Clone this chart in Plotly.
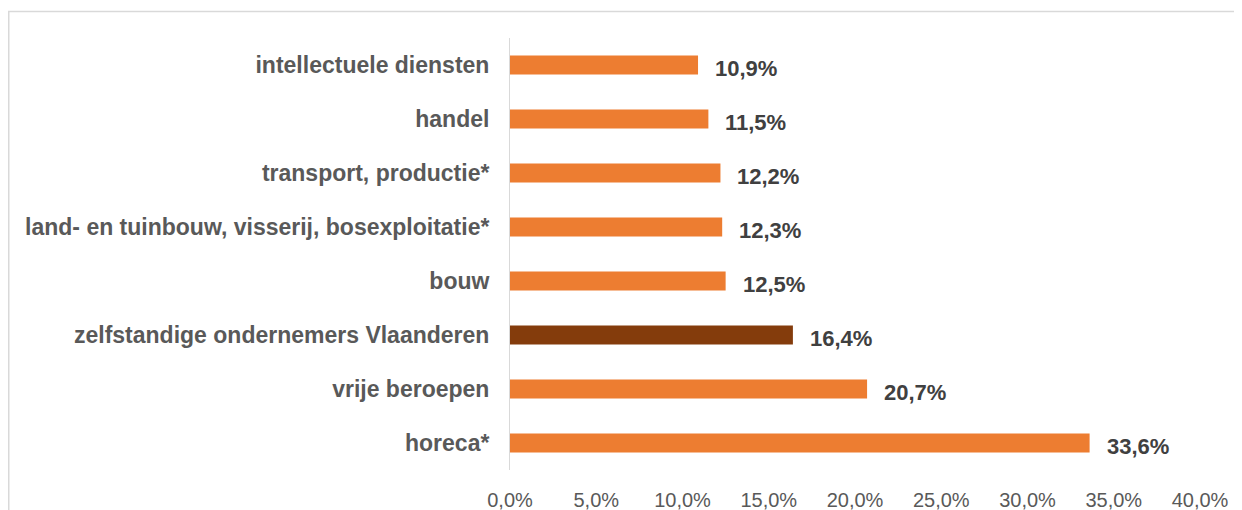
import plotly.graph_objects as go

# categories from top to bottom, as in the chart
categories = [
    'intellectuele diensten',
    'handel',
    'transport, productie*',
    'land- en tuinbouw, visserij, bosexploitatie*',
    'bouw',
    'zelfstandige ondernemers Vlaanderen',
    'vrije beroepen',
    'horeca*',
]
shares = [0.109, 0.115, 0.122, 0.123, 0.125, 0.164, 0.207, 0.336]
share_labels = ['10,9%', '11,5%', '12,2%', '12,3%', '12,5%', '16,4%', '20,7%', '33,6%']
tick_values = [0, 0.05, 0.10, 0.15, 0.20, 0.25, 0.30, 0.35, 0.40]
tick_labels = ['0,0%', '5,0%', '10,0%', '15,0%', '20,0%', '25,0%', '30,0%', '35,0%', '40,0%']
highlight = 'zelfstandige ondernemers Vlaanderen'

# page body adds an 8px margin, so the figure is a bit smaller than the window
W, H = 1234, 502
L, R, T, B = 502, 42, 30, 40

colors = ['#843C0C' if c == highlight else '#ED7D31' for c in categories]

fig = go.Figure()
fig.add_trace(go.Bar(
    x=shares,
    y=categories,
    orientation='h',
    marker_color=colors,
    marker_line_width=0,
    hoverinfo='skip'
))

# value labels next to the bars
for cat, val, lab in zip(categories, shares, share_labels):
    fig.add_annotation(
        x=val, y=cat, xref='x', yref='y',
        text=f'<b>{lab}</b>',
        showarrow=False,
        xanchor='left', yanchor='middle',
        xshift=15, yshift=-3,
        font=dict(family='Liberation Sans, Arial', size=22, color='#404040')
    )

# light grey frame of the chart area (cropped at right/bottom)
pw, ph = W - L - R, H - T - B
fig.add_shape(
    type='rect', xref='paper', yref='paper',
    x0=(0.75 - L) / pw, x1=(W + 20 - L) / pw,
    y0=-(B + 20) / ph, y1=1 + (T - 3.5) / ph,
    line=dict(color='#D9D9D9', width=1.5),
    fillcolor='rgba(0,0,0,0)',
    layer='below'
)

fig.update_layout(
    width=W, height=H,
    margin=dict(l=L, r=R, t=T, b=B),
    paper_bgcolor='white',
    plot_bgcolor='white',
    bargap=0.65,
    showlegend=False,
    font=dict(family='Liberation Sans, Arial', color='#595959'),
    xaxis=dict(
        range=[0, 0.40],
        tickvals=tick_values,
        ticktext=tick_labels,
        showgrid=False,
        zeroline=False,
        showline=False,
        ticks='outside',
        ticklen=12,
        tickcolor='rgba(0,0,0,0)',
        tickfont=dict(size=20, color='#595959'),
        automargin=False,
        fixedrange=True
    ),
    yaxis=dict(
        autorange='reversed',
        showgrid=False,
        zeroline=False,
        showline=True,
        linecolor='#D9D9D9',
        linewidth=1,
        ticks='outside',
        ticklen=15,
        tickcolor='rgba(0,0,0,0)',
        tickfont=dict(size=23, color='#595959', weight='bold'),
        automargin=False,
        fixedrange=True
    )
)

fig.write_html('out.html')
